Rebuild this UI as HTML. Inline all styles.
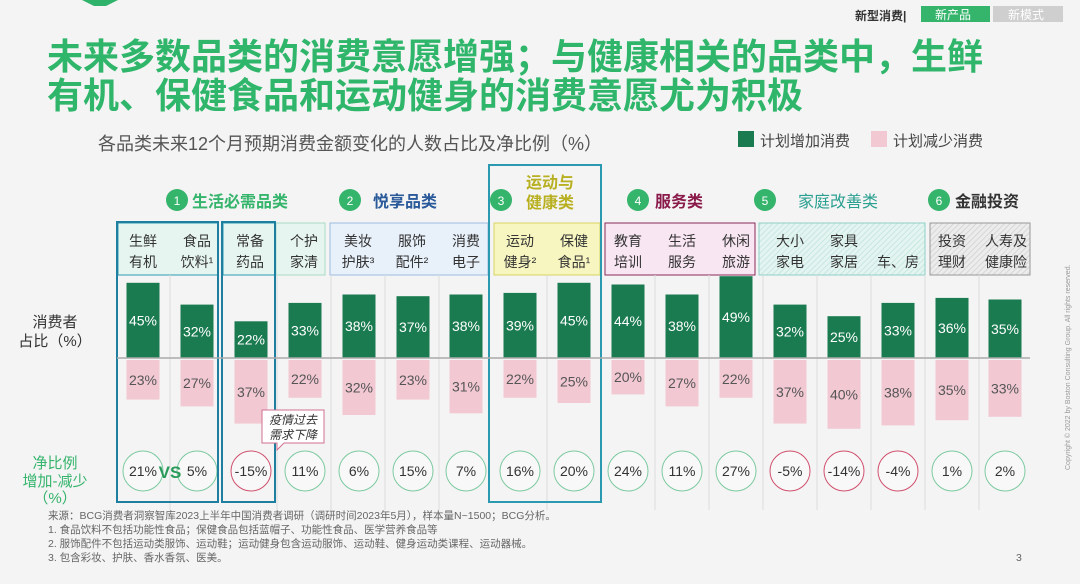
<!DOCTYPE html>
<html><head><meta charset="utf-8"><style>
body{margin:0;background:#f4f4f4;}
svg{display:block;font-family:"Liberation Sans","Noto Sans CJK SC",sans-serif;}
.g{fill:#1a7a50}.p{fill:#f2c9d3}
.w{font-size:14px;fill:#fff;text-anchor:middle}
.d{font-size:14px;fill:#555;text-anchor:middle}
.n{font-size:14px;fill:#333;text-anchor:middle}
.cp{fill:#f8f8f8;stroke:#7ccaa0;stroke-width:1}
.cn{fill:#f8f8f8;stroke:#d0506e;stroke-width:1}
</style></head><body>
<svg width="1080" height="584" viewBox="0 0 1080 584">
<defs>
<pattern id="h1" width="4" height="4" patternUnits="userSpaceOnUse" patternTransform="rotate(45)"><rect width="4" height="4" fill="#e4f4f1"/><line x1="0" y1="0" x2="0" y2="4" stroke="#bfe3dc" stroke-width="1.5"/></pattern>
<pattern id="h2" width="4" height="4" patternUnits="userSpaceOnUse" patternTransform="rotate(45)"><rect width="4" height="4" fill="#ececec"/><line x1="0" y1="0" x2="0" y2="4" stroke="#cfcfcf" stroke-width="1.5"/></pattern>
</defs>
<rect width="1080" height="584" fill="#f4f4f4"/>
<path d="M82 0 L118 0 L106 6 L94 6 Z" fill="#2fb36a"/>
<text x="855" y="20" font-size="12" fill="#333" font-weight="bold">新型消费|</text>
<rect x="921" y="6" width="69" height="16" fill="#35b46c"/>
<text x="935" y="19" font-size="12" fill="#fff">新产品</text>
<rect x="993" y="6" width="70" height="16" fill="#cfcfcf"/>
<text x="1008" y="19" font-size="12" fill="#fff">新模式</text>
<text x="47" y="69" font-size="36" font-weight="bold" fill="#2fb66b">未来多数品类的消费意愿增强；与健康相关的品类中，生鲜</text>
<text x="47" y="108" font-size="36" font-weight="bold" fill="#2fb66b">有机、保健食品和运动健身的消费意愿尤为积极</text>
<text x="98" y="150" font-size="18" fill="#555">各品类未来12个月预期消费金额变化的人数占比及净比例（%）</text>
<rect x="738" y="131" width="16" height="16" fill="#1a7a50"/>
<text x="760" y="146" font-size="15" fill="#444">计划增加消费</text>
<rect x="871" y="131" width="16" height="16" fill="#f2c9d3"/>
<text x="893" y="146" font-size="15" fill="#444">计划减少消费</text>
<g font-size="16" font-weight="bold">
<circle cx="177" cy="200" r="11" fill="#35b46c"/><text x="177" y="205" font-size="12" fill="#fff" text-anchor="middle" font-weight="normal">1</text>
<text x="192" y="207" fill="#35b46c">生活必需品类</text>
<circle cx="350" cy="200" r="11" fill="#35b46c"/><text x="350" y="205" font-size="12" fill="#fff" text-anchor="middle" font-weight="normal">2</text>
<text x="373" y="207" fill="#2a5a9a">悦享品类</text>
<circle cx="501" cy="200" r="11" fill="#35b46c"/><text x="501" y="205" font-size="12" fill="#fff" text-anchor="middle" font-weight="normal">3</text>
<text x="550" y="188" fill="#b8b020" text-anchor="middle">运动与</text>
<text x="550" y="208" fill="#b8b020" text-anchor="middle">健康类</text>
<circle cx="638" cy="200" r="11" fill="#35b46c"/><text x="638" y="205" font-size="12" fill="#fff" text-anchor="middle" font-weight="normal">4</text>
<text x="655" y="207" fill="#8a1a4a">服务类</text>
<circle cx="765" cy="200" r="11" fill="#35b46c"/><text x="765" y="205" font-size="12" fill="#fff" text-anchor="middle" font-weight="normal">5</text>
<text x="798" y="207" fill="#2aa090" font-weight="normal">家庭改善类</text>
<circle cx="939" cy="200" r="11" fill="#35b46c"/><text x="939" y="205" font-size="12" fill="#fff" text-anchor="middle" font-weight="normal">6</text>
<text x="955" y="207" fill="#333">金融投资</text>
</g>
<rect x="118" y="223" width="100" height="52" fill="#e6f5ef" stroke="#2b9ab0" stroke-width="1"/>
<rect x="223" y="223" width="52" height="52" fill="#e6f5ef" stroke="#2b9ab0"/>
<rect x="276" y="223" width="49" height="52" fill="#e6f5ef" stroke="#a8dcc4"/>
<rect x="330" y="223" width="158" height="52" fill="#e8f0fa" stroke="#9cbbe0"/>
<rect x="494" y="223" width="106" height="52" fill="#f7f6c0" stroke="#d8d460"/>
<rect x="605" y="223" width="150" height="52" fill="#f8e6f2" stroke="#8a2a5a"/>
<rect x="759" y="223" width="166" height="52" fill="url(#h1)" stroke="#8fd0c6"/>
<rect x="930" y="223" width="100" height="52" fill="url(#h2)" stroke="#999"/>
<g stroke="#dcdcdc" stroke-width="1">
<line x1="170" y1="275" x2="170" y2="510"/><line x1="277" y1="275" x2="277" y2="510"/><line x1="331" y1="275" x2="331" y2="510"/><line x1="385" y1="275" x2="385" y2="510"/><line x1="439" y1="275" x2="439" y2="510"/><line x1="547" y1="275" x2="547" y2="510"/><line x1="655" y1="275" x2="655" y2="510"/><line x1="709" y1="275" x2="709" y2="510"/><line x1="763" y1="275" x2="763" y2="510"/><line x1="817" y1="275" x2="817" y2="510"/><line x1="871" y1="275" x2="871" y2="510"/><line x1="925" y1="275" x2="925" y2="510"/><line x1="979" y1="275" x2="979" y2="510"/>
</g>
<g font-size="14" fill="#333" text-anchor="middle">
<text x="143" y="246">生鲜</text><text x="143" y="267">有机</text>
<text x="197" y="246">食品</text><text x="197" y="267">饮料¹</text>
<text x="250" y="246">常备</text><text x="250" y="267">药品</text>
<text x="304" y="246">个护</text><text x="304" y="267">家清</text>
<text x="358" y="246">美妆</text><text x="358" y="267">护肤³</text>
<text x="412" y="246">服饰</text><text x="412" y="267">配件²</text>
<text x="466" y="246">消费</text><text x="466" y="267">电子</text>
<text x="520" y="246">运动</text><text x="520" y="267">健身²</text>
<text x="574" y="246">保健</text><text x="574" y="267">食品¹</text>
<text x="628" y="246">教育</text><text x="628" y="267">培训</text>
<text x="682" y="246">生活</text><text x="682" y="267">服务</text>
<text x="736" y="246">休闲</text><text x="736" y="267">旅游</text>
<text x="790" y="246">大小</text><text x="790" y="267">家电</text>
<text x="844" y="246">家具</text><text x="844" y="267">家居</text>
<text x="898" y="267">车、房</text>
<text x="952" y="246">投资</text><text x="952" y="267">理财</text>
<text x="1006" y="246">人寿及</text><text x="1006" y="267">健康险</text>
</g>
<text x="55" y="327" font-size="15" fill="#333" text-anchor="middle">消费者</text>
<text x="55" y="346" font-size="15" fill="#333" text-anchor="middle">占比（%）</text>
<g font-size="15" fill="#35b46c" text-anchor="middle">
<text x="55" y="468">净比例</text><text x="55" y="486">增加-减少</text><text x="55" y="503">（%）</text>
</g>

<!-- columns -->
<g transform="translate(143,0)"><rect class="g" x="-16.5" y="282.8" width="33" height="75.2"/><text class="w" y="325.4">45%</text><rect class="p" x="-16.5" y="360" width="33" height="39.6"/><text class="d" y="384.8">23%</text><circle class="cp" cy="471" r="20"/><text class="n" y="476">21%</text></g>
<g transform="translate(197,0)"><rect class="g" x="-16.5" y="304.6" width="33" height="53.4"/><text class="w" y="336.3">32%</text><rect class="p" x="-16.5" y="360" width="33" height="46.4"/><text class="d" y="388.2">27%</text><circle class="cp" cy="471" r="20"/><text class="n" y="476">5%</text></g>
<g transform="translate(251,0)"><rect class="g" x="-16.5" y="321.3" width="33" height="36.7"/><text class="w" y="344.6">22%</text><rect class="p" x="-16.5" y="360" width="33" height="63.6"/><text class="d" y="396.8">37%</text><circle class="cn" cy="471" r="20"/><text class="n" y="476">-15%</text></g>
<g transform="translate(305,0)"><rect class="g" x="-16.5" y="302.9" width="33" height="55.1"/><text class="w" y="335.4">33%</text><rect class="p" x="-16.5" y="360" width="33" height="37.8"/><text class="d" y="383.9">22%</text><circle class="cp" cy="471" r="20"/><text class="n" y="476">11%</text></g>
<g transform="translate(359,0)"><rect class="g" x="-16.5" y="294.5" width="33" height="63.5"/><text class="w" y="331.2">38%</text><rect class="p" x="-16.5" y="360" width="33" height="55"/><text class="d" y="392.5">32%</text><circle class="cp" cy="471" r="20"/><text class="n" y="476">6%</text></g>
<g transform="translate(413,0)"><rect class="g" x="-16.5" y="296.2" width="33" height="61.8"/><text class="w" y="332.1">37%</text><rect class="p" x="-16.5" y="360" width="33" height="39.6"/><text class="d" y="384.8">23%</text><circle class="cp" cy="471" r="20"/><text class="n" y="476">15%</text></g>
<g transform="translate(466,0)"><rect class="g" x="-16.5" y="294.5" width="33" height="63.5"/><text class="w" y="331.2">38%</text><rect class="p" x="-16.5" y="360" width="33" height="53.3"/><text class="d" y="391.6">31%</text><circle class="cp" cy="471" r="20"/><text class="n" y="476">7%</text></g>
<g transform="translate(520,0)"><rect class="g" x="-16.5" y="292.9" width="33" height="65.1"/><text class="w" y="330.4">39%</text><rect class="p" x="-16.5" y="360" width="33" height="37.8"/><text class="d" y="383.9">22%</text><circle class="cp" cy="471" r="20"/><text class="n" y="476">16%</text></g>
<g transform="translate(574,0)"><rect class="g" x="-16.5" y="282.8" width="33" height="75.2"/><text class="w" y="325.4">45%</text><rect class="p" x="-16.5" y="360" width="33" height="43"/><text class="d" y="386.5">25%</text><circle class="cp" cy="471" r="20"/><text class="n" y="476">20%</text></g>
<g transform="translate(628,0)"><rect class="g" x="-16.5" y="284.5" width="33" height="73.5"/><text class="w" y="326.2">44%</text><rect class="p" x="-16.5" y="360" width="33" height="34.4"/><text class="d" y="382.2">20%</text><circle class="cp" cy="471" r="20"/><text class="n" y="476">24%</text></g>
<g transform="translate(682,0)"><rect class="g" x="-16.5" y="294.5" width="33" height="63.5"/><text class="w" y="331.2">38%</text><rect class="p" x="-16.5" y="360" width="33" height="46.4"/><text class="d" y="388.2">27%</text><circle class="cp" cy="471" r="20"/><text class="n" y="476">11%</text></g>
<g transform="translate(736,0)"><rect class="g" x="-16.5" y="276.2" width="33" height="81.8"/><text class="w" y="322.1">49%</text><rect class="p" x="-16.5" y="360" width="33" height="37.8"/><text class="d" y="383.9">22%</text><circle class="cp" cy="471" r="20"/><text class="n" y="476">27%</text></g>
<g transform="translate(790,0)"><rect class="g" x="-16.5" y="304.6" width="33" height="53.4"/><text class="w" y="336.3">32%</text><rect class="p" x="-16.5" y="360" width="33" height="63.6"/><text class="d" y="396.8">37%</text><circle class="cn" cy="471" r="20"/><text class="n" y="476">-5%</text></g>
<g transform="translate(844,0)"><rect class="g" x="-16.5" y="316.2" width="33" height="41.8"/><text class="w" y="342.1">25%</text><rect class="p" x="-16.5" y="360" width="33" height="68.8"/><text class="d" y="399.4">40%</text><circle class="cn" cy="471" r="20"/><text class="n" y="476">-14%</text></g>
<g transform="translate(898,0)"><rect class="g" x="-16.5" y="302.9" width="33" height="55.1"/><text class="w" y="335.4">33%</text><rect class="p" x="-16.5" y="360" width="33" height="65.4"/><text class="d" y="397.7">38%</text><circle class="cn" cy="471" r="20"/><text class="n" y="476">-4%</text></g>
<g transform="translate(952,0)"><rect class="g" x="-16.5" y="297.9" width="33" height="60.1"/><text class="w" y="333">36%</text><rect class="p" x="-16.5" y="360" width="33" height="60.2"/><text class="d" y="395.1">35%</text><circle class="cp" cy="471" r="20"/><text class="n" y="476">1%</text></g>
<g transform="translate(1005,0)"><rect class="g" x="-16.5" y="299.5" width="33" height="58.5"/><text class="w" y="333.8">35%</text><rect class="p" x="-16.5" y="360" width="33" height="56.8"/><text class="d" y="393.4">33%</text><circle class="cp" cy="471" r="20"/><text class="n" y="476">2%</text></g>

<!-- tall outlines on top -->
<rect x="117" y="222" width="101" height="280" fill="none" stroke="#1e7fa0" stroke-width="2"/>
<rect x="222" y="222" width="53" height="280" fill="none" stroke="#1e7fa0" stroke-width="2"/>
<rect x="489" y="165" width="112" height="337" fill="none" stroke="#2b9ab0" stroke-width="2"/>
<line x1="117" y1="358" x2="1030" y2="358" stroke="#aaa" stroke-width="1.5"/>
<path d="M262 410 h62 v33 h-40 l-7 7 l0 -7 h-15 z" fill="#fff" stroke="#d07090" stroke-width="1"/>
<text x="293" y="424" font-size="12" fill="#333" text-anchor="middle" font-style="italic">疫情过去</text>
<text x="293" y="439" font-size="12" fill="#333" text-anchor="middle" font-style="italic">需求下降</text>
<text x="170" y="478" font-size="17" fill="#2a9a5a" font-weight="bold" text-anchor="middle">VS</text>
<g font-size="10.5" fill="#666">
<text x="48" y="519">来源：BCG消费者洞察智库2023上半年中国消费者调研（调研时间2023年5月），样本量N~1500；BCG分析。</text>
<text x="48" y="533">1.  食品饮料不包括功能性食品；保健食品包括蓝帽子、功能性食品、医学营养食品等</text>
<text x="48" y="547">2.  服饰配件不包括运动类服饰、运动鞋；运动健身包含运动服饰、运动鞋、健身运动类课程、运动器械。</text>
<text x="48" y="561">3.  包含彩妆、护肤、香水香氛、医美。</text>
<text x="1016" y="561">3</text>
</g>
<text transform="translate(1070,470) rotate(-90)" font-size="7" fill="#999">Copyright © 2022 by Boston Consulting Group. All rights reserved.</text>
</svg>
</body></html>
